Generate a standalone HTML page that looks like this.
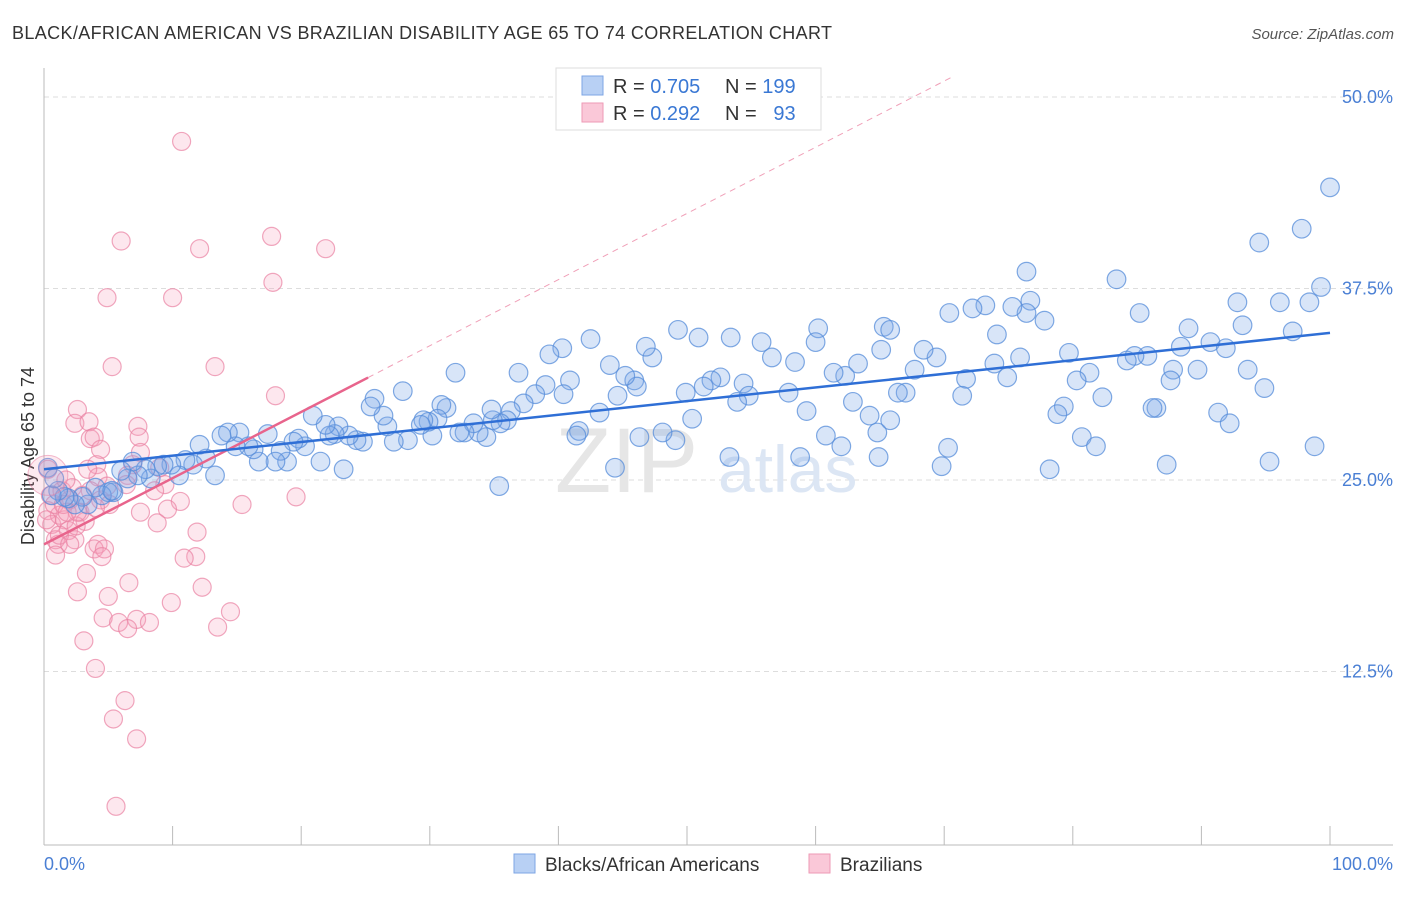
<!DOCTYPE html>
<html><head><meta charset="utf-8"><style>
body{margin:0;background:#fff;font-family:"Liberation Sans",sans-serif}
svg text{font-family:"Liberation Sans",sans-serif}
</style></head><body>
<svg id="c" width="1406" height="892"></svg>
<script>
const blueX=[100,97.8,94.5,99.3,98.4,96.1,92.8,93.2,97.1,89.0,90.7,91.9,88.4,87.3,95.3,98.8,94.9,93.6,91.3,92.2,89.7,87.8,87.6,86.5,86.2,85.8,84.8,84.2,85.2,83.4,82.3,81.3,80.3,79.7,80.7,81.8,79.3,78.8,78.2,77.8,76.7,76.4,75.3,76.4,74.1,75.9,73.9,74.9,73.2,72.2,70.4,71.7,71.4,69.8,69.4,68.4,67.7,67.0,66.4,65.3,65.1,64.2,64.8,65.8,64.9,62.9,63.3,62.3,61.4,60.2,60.0,59.3,60.8,62.0,58.8,58.4,57.9,56.6,55.8,54.4,54.8,53.9,53.4,52.6,51.9,51.3,50.9,50.4,49.3,49.9,49.1,48.1,47.3,46.8,45.9,46.1,46.3,45.2,44.6,44.0,43.2,42.5,41.6,41.4,40.9,40.4,40.3,39.3,39.0,38.2,37.3,36.9,36.3,36.0,35.5,34.9,34.8,34.4,33.8,33.4,32.7,32.3,32.0,31.3,30.9,30.6,30.2,29.9,29.5,29.3,28.3,27.9,27.2,26.7,26.4,25.7,25.4,24.8,24.3,23.7,23.3,22.9,22.6,22.2,21.9,21.5,20.9,20.3,19.8,19.4,18.9,18.4,18.0,17.4,16.7,16.3,15.9,15.2,14.9,14.3,13.8,13.3,12.6,12.1,11.6,11.0,10.5,9.9,9.3,8.8,8.3,7.9,7.3,6.9,6.5,6.0,5.4,5.0,4.5,4.0,3.4,3.0,2.4,1.9,1.6,1.1,0.6,0.3,0.8,5.3,35.4,44.4,53.3,65.8,70.3];
const blueY=[44.1,41.4,40.5,37.6,36.6,36.6,36.6,35.1,34.7,34.9,34.0,33.6,33.7,26.0,26.2,27.2,31.0,32.2,29.4,28.7,32.2,32.2,31.5,29.7,29.7,33.1,33.1,32.8,35.9,38.1,30.4,32.0,31.5,33.3,27.8,27.2,29.8,29.3,25.7,35.4,36.7,35.9,36.3,38.6,34.5,33.0,32.6,31.7,36.4,36.2,35.9,31.6,30.5,25.9,33.0,33.5,32.2,30.7,30.7,35.0,33.5,29.2,28.1,28.9,26.5,30.1,32.6,31.8,32.0,34.9,34.0,29.5,27.9,27.2,26.5,32.7,30.7,33.0,34.0,31.3,30.5,30.1,34.3,31.7,31.5,31.1,34.3,29.0,34.8,30.7,27.6,28.1,33.0,33.7,31.5,31.1,27.8,31.8,30.5,32.5,29.4,34.2,28.2,27.9,31.5,30.6,33.6,33.2,31.2,30.6,30.0,32.0,29.5,28.9,28.7,28.9,29.6,27.8,28.1,28.7,28.1,28.1,32.0,29.7,29.9,29.0,27.9,28.8,28.9,28.6,27.6,30.8,27.5,28.5,29.2,30.3,29.8,27.5,27.6,27.9,25.7,28.5,28.0,27.9,28.6,26.2,29.2,27.2,27.7,27.5,26.2,26.9,26.2,28.0,26.2,27.0,27.2,28.1,27.2,28.1,27.9,25.3,26.4,27.3,26.0,26.3,25.3,26.0,26.0,25.9,25.1,25.7,25.3,26.2,25.1,25.6,24.2,24.2,24.0,24.5,23.4,23.9,23.4,23.8,23.9,24.3,24.0,25.8,25.1,24.3,24.6,25.8,26.5,34.8,27.1];
const pinkX=[10.7,6.0,17.7,12.1,21.9,4.9,10.0,17.8,5.3,13.3,18.0,2.6,2.4,3.5,3.6,3.9,7.3,7.4,4.4,7.5,4.1,4.2,6.9,6.5,6.4,9.0,9.4,10.6,9.6,8.6,15.4,19.6,7.5,8.8,11.9,11.8,10.9,4.2,3.9,4.7,4.5,3.3,6.6,5.0,2.6,4.6,5.8,7.2,8.2,6.5,9.9,12.3,14.5,13.5,3.1,4.0,6.3,5.4,7.2,5.6,0.3,0.5,0.3,0.6,0.9,1.2,1.6,2.0,1.4,1.9,2.4,2.8,3.2,2.2,1.1,0.8,1.7,2.5,3.6,4.4,1.2,5.1,0.2,1.5,3.0,4.0,2.0,0.9,3.4,4.9,2.6,1.8];
const pinkY=[47.1,40.6,40.9,40.1,40.1,36.9,36.9,37.9,32.4,32.4,30.5,29.6,28.7,28.8,27.7,27.8,28.5,27.8,27.0,26.8,26.0,25.2,26.0,25.3,24.7,25.8,24.7,23.6,23.1,24.3,23.4,23.9,22.9,22.2,21.6,20.0,19.9,20.8,20.5,20.5,20.0,18.9,18.3,17.4,17.7,16.0,15.7,15.9,15.7,15.3,17.0,18.0,16.4,15.4,14.5,12.7,10.6,9.4,8.1,3.7,25.7,24.0,23.0,22.1,21.1,22.7,22.4,23.7,24.3,21.7,21.1,22.9,22.3,24.5,20.8,23.4,25.0,22.0,24.3,23.7,21.4,23.4,22.4,23.4,24.0,23.2,20.8,20.1,25.7,24.6,22.9,22.9];
const yTicks=[12.5,25,37.5,50];
const yTickLabels=["12.5%","25.0%","37.5%","50.0%"];
const blueTrend=[25.7,0.089];
const pinkTrend=[20.8,0.432];

const X0=44,X1=1330,Y0=863;
const sx=v=>X0+(X1-X0)*v/100;
const sy=v=>Y0-v*15.32;
const svg=document.getElementById('c');
const NS='http://www.w3.org/2000/svg';
function mk(t,a,p){const e=document.createElementNS(NS,t);for(const k in a)e.setAttribute(k,a[k]);(p||svg).appendChild(e);return e;}

let t=mk('text',{x:12,y:39,'font-size':18,fill:'#333',textLength:820});t.textContent='BLACK/AFRICAN AMERICAN VS BRAZILIAN DISABILITY AGE 65 TO 74 CORRELATION CHART';


t=mk('text',{x:1394,y:39,'font-size':15,fill:'#555','text-anchor':'end','font-style':'italic'});t.textContent='Source: ZipAtlas.com';



yTicks.forEach((v,i)=>{
  const g=mk('line',{x1:X0,x2:1393,y1:sy(v),y2:sy(v),stroke:'#ddd','stroke-dasharray':'5,4'});
  
  
  const l=mk('text',{x:1393,y:sy(v)+6,'font-size':18,fill:'#4a7fd4','text-anchor':'end'});l.textContent=yTickLabels[i];
  
  
});
t=mk('text',{x:555,y:492,'font-size':92,fill:'#e6e6e6','font-family':'Liberation Serif'});t.textContent='ZIP';


t=mk('text',{x:718,y:492,'font-size':66,fill:'#dce6f4'});t.textContent='atlas';



let a=mk('line',{x1:X0,x2:X0,y1:68,y2:845,stroke:'#bbb'});


a=mk('line',{x1:X0,x2:1393,y1:845,y2:845,stroke:'#bbb'});


for(let i=0;i<=10;i++){const k=mk('line',{x1:sx(i*10),x2:sx(i*10),y1:826,y2:845,stroke:'#bbb'});

}
t=mk('text',{x:44,y:870,'font-size':18,fill:'#4a7fd4'});t.textContent='0.0%';


t=mk('text',{x:1393,y:870,'font-size':18,fill:'#4a7fd4','text-anchor':'end'});t.textContent='100.0%';


t=mk('text',{x:34,y:456,'font-size':18,fill:'#333','text-anchor':'middle',transform:'rotate(-90 34 456)'});t.textContent='Disability Age 65 to 74';



pinkX.forEach((v,i)=>{const c=mk('circle',{cx:sx(v),cy:sy(pinkY[i]),r:9,fill:'rgba(246,160,188,0.25)',stroke:'rgba(234,130,162,0.7)','stroke-width':1.2});

});
blueX.forEach((v,i)=>{const c=mk('circle',{cx:sx(v),cy:sy(blueY[i]),r:9.3,fill:'rgba(125,170,232,0.3)',stroke:'rgba(85,140,218,0.75)','stroke-width':1.2});

});
let big=mk('circle',{cx:sx(0.3),cy:sy(25.3),r:20,fill:'rgba(244,150,180,0.2)',stroke:'rgba(232,120,155,0.5)'});



const pEnd=(50-pinkTrend[0])/pinkTrend[1]+3;
let ln=mk('line',{x1:sx(25.2),y1:sy(pinkTrend[0]+pinkTrend[1]*25.2),x2:sx(pEnd),y2:sy(pinkTrend[0]+pinkTrend[1]*pEnd),stroke:'#f0a0b8','stroke-width':1,'stroke-dasharray':'6,5'});


ln=mk('line',{x1:sx(0),y1:sy(pinkTrend[0]),x2:sx(25.2),y2:sy(pinkTrend[0]+pinkTrend[1]*25.2),stroke:'#e8648c','stroke-width':2.5});


ln=mk('line',{x1:sx(0),y1:sy(blueTrend[0]),x2:sx(100),y2:sy(blueTrend[0]+blueTrend[1]*100),stroke:'#2f6fd6','stroke-width':2.5});



const lg=mk('g',{});


mk('rect',{x:556,y:68,width:265,height:62,fill:'#fff',stroke:'#ddd'},lg);
mk('rect',{x:582,y:76,width:21,height:19,fill:'#b8d0f4',stroke:'#7ea6e4'},lg);
mk('rect',{x:582,y:103,width:21,height:19,fill:'#fac8d8',stroke:'#ee9ab6'},lg);
const rows=[["0.705","199",93],["0.292"," 93",120]];
rows.forEach(r=>{
  let e=mk('text',{x:613,y:r[2],'font-size':20,fill:'#333'},lg);e.innerHTML='R = <tspan fill="#3a78d4">'+(r[0]=="0.292"?' ':'')+r[0]+'</tspan>';
  
  
  e=mk('text',{x:725,y:r[2],'font-size':20,fill:'#333'},lg);e.innerHTML='N = <tspan fill="#3a78d4">'+r[1].replace(' ','\u00a0\u00a0')+'</tspan>';
  
  
});
const bl=mk('g',{});


mk('rect',{x:514,y:854,width:21,height:19,fill:'#b8d0f4',stroke:'#7ea6e4'},bl);
t=mk('text',{x:545,y:871,'font-size':19,fill:'#333'},bl);t.textContent='Blacks/African Americans';


mk('rect',{x:809,y:854,width:21,height:19,fill:'#fac8d8',stroke:'#ee9ab6'},bl);
t=mk('text',{x:840,y:871,'font-size':19,fill:'#333'},bl);t.textContent='Brazilians';


</script>
</body></html>
